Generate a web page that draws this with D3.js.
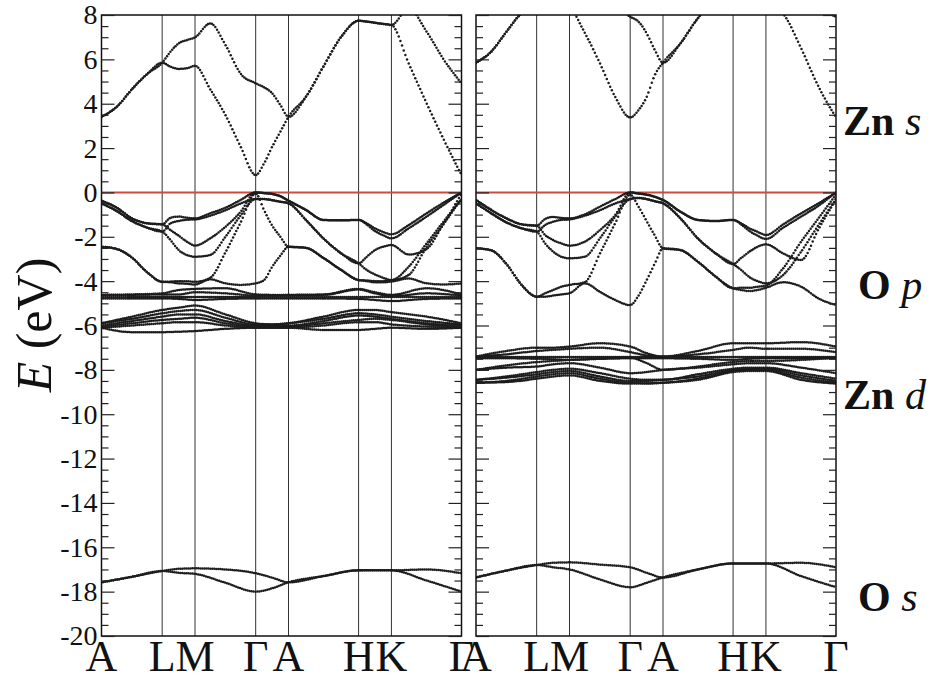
<!DOCTYPE html>
<html>
<head>
<meta charset="utf-8">
<script src="https://cdn.jsdelivr.net/npm/d3@7"></script>
<style>
    body { margin: 0; background: #fff; }
    svg { display: block; }
    text { font-family: "Liberation Serif", "Times New Roman", Times, serif; }
</style>
</head>
<body>
<svg id="chart" width="929" height="676"></svg>
<script>
// k-path A-L-M-Γ-A-H-K-Γ (cumulative distance, 1/Å)
var kLabels = ["A", "L", "M", "Γ", "A", "H", "K", "Γ"];
var kNodes = [0, 1.116, 1.72, 2.836, 3.44, 4.729, 5.333, 6.622];
var kFine = [0, 0.28, 0.56, 0.84, 1.116, 1.27, 1.42, 1.57, 1.72, 2.0, 2.28, 2.56, 2.836, 2.99, 3.14, 3.29,
             3.44, 3.76, 4.08, 4.41, 4.729, 4.88, 5.03, 5.18, 5.333, 5.65, 5.98, 6.30, 6.622];
var kCoarse = [0, 0.56, 1.116, 1.42, 1.72, 2.28, 2.836, 3.14, 3.44, 4.08, 4.729, 5.03, 5.333, 5.98, 6.622];

var yMajor = [8, 6, 4, 2, 0, -2, -4, -6, -8, -10, -12, -14, -16, -18, -20];

// ---- left panel (eV) ----
// conduction bands, on kFine
var condLeft = [
    [3.41, 3.86, 4.65, 5.34, 5.85, 5.67, 5.57, 5.6, 5.71, 4.65, 3.49, 2.06, 0.78, 1.31, 2.06, 2.74, 3.41, 4.31, 5.67, 7.02, 7.74, 7.7, 7.65, 7.6, 7.55, 5.82, 4.02, 2.36, 0.78],
    [3.41, 3.86, 4.65, 5.34, 5.85, 6.35, 6.72, 6.87, 6.99, 7.62, 6.65, 5.35, 4.92, 4.74, 4.47, 3.94, 3.41, 4.31, 5.67, 7.02, 7.74, 7.7, 7.65, 7.6, 7.55, 8.3, 7.25, 5.97, 4.92]
];
// O p bands, on kFine
var opLeft = [
    [-0.37, -0.69, -1.17, -1.39, -1.44, -1.14, -1.09, -1.14, -1.17, -0.94, -0.69, -0.34, 0, -0.03, -0.07, -0.17, -0.37, -0.79, -1.24, -1.26, -1.24, -1.4, -1.62, -1.78, -1.89, -1.47, -0.94, -0.45, 0],
    [-0.37, -0.69, -1.17, -1.39, -1.44, -1.7, -1.95, -2.22, -2.4, -2.07, -1.55, -0.87, 0, -0.03, -0.07, -0.17, -0.37, -0.79, -1.24, -1.26, -1.24, -1.45, -1.74, -1.93, -2.07, -1.62, -1.09, -0.55, 0],
    [-2.45, -2.55, -2.94, -3.6, -4.03, -4.02, -4.0, -4.0, -4.03, -3.85, -2.7, -1.35, -0.05, -0.8, -1.5, -2.0, -2.45, -2.5, -2.95, -3.5, -3.95, -3.97, -4.0, -4.0, -3.97, -3.72, -2.45, -1.39, -0.05],
    [-0.49, -0.84, -1.29, -1.59, -1.77, -1.39, -1.29, -1.23, -1.22, -1.05, -0.8, -0.5, -0.3, -0.3, -0.35, -0.42, -0.49, -1.24, -2.07, -2.75, -3.2, -2.9, -2.6, -2.45, -2.37, -2.8, -2.55, -1.4, -0.3],
    [-0.49, -0.84, -1.29, -1.59, -1.77, -2.15, -2.6, -2.82, -2.9, -2.82, -2.0, -1.04, -0.3, -0.3, -0.35, -0.42, -0.49, -1.24, -2.07, -2.75, -3.2, -3.5, -3.7, -3.85, -3.95, -3.35, -2.3, -1.29, -0.3],
    [-2.45, -2.55, -2.94, -3.6, -4.03, -4.05, -4.1, -4.12, -4.15, -3.92, -4.1, -4.17, -4.1, -3.95, -3.35, -2.85, -2.45, -2.5, -2.95, -3.5, -3.95, -4.0, -4.05, -4.05, -4.02, -3.88, -4.1, -4.15, -4.1]
];
// Zn d bands, on kCoarse
var zndLeft = [
    [-4.62, -4.6, -4.55, -4.4, -4.35, -4.32, -4.6, -4.62, -4.62, -4.6, -4.35, -4.5, -4.62, -4.32, -4.6],
    [-4.62, -4.62, -4.6, -4.6, -4.5, -4.55, -4.65, -4.65, -4.62, -4.62, -4.38, -4.55, -4.68, -4.55, -4.65],
    [-4.72, -4.72, -4.72, -4.72, -4.72, -4.72, -4.72, -4.72, -4.72, -4.72, -4.72, -4.72, -4.72, -4.72, -4.72],
    [-4.78, -4.78, -4.78, -4.8, -4.85, -4.8, -4.78, -4.78, -4.78, -4.78, -4.8, -4.85, -4.9, -4.8, -4.78],
    [-5.9, -5.6, -5.3, -5.2, -5.1, -5.5, -5.9, -5.95, -5.9, -5.6, -5.3, -5.3, -5.4, -5.6, -5.9],
    [-5.9, -5.7, -5.45, -5.35, -5.3, -5.65, -5.95, -5.95, -5.9, -5.7, -5.45, -5.5, -5.6, -5.8, -5.95],
    [-6.0, -5.8, -5.6, -5.5, -5.5, -5.8, -6.0, -6.0, -6.0, -5.8, -5.55, -5.6, -5.7, -5.9, -6.0],
    [-6.05, -5.9, -5.75, -5.7, -5.65, -5.9, -6.05, -6.05, -6.05, -5.9, -5.75, -5.7, -5.75, -5.95, -6.05],
    [-6.1, -6.0, -5.9, -5.85, -5.85, -6.0, -6.1, -6.1, -6.1, -6.0, -5.85, -5.85, -5.95, -6.05, -6.1],
    [-6.1, -6.3, -6.3, -6.28, -6.25, -6.15, -6.1, -6.1, -6.1, -6.2, -6.2, -6.15, -6.1, -6.15, -6.1]
];
// O s bands, on kCoarse
var osLeft = [
    [-17.58, -17.33, -17.07, -16.97, -16.95, -17.0, -17.17, -17.37, -17.58, -17.3, -17.04, -17.04, -17.04, -17.0, -17.17],
    [-17.58, -17.33, -17.07, -17.15, -17.2, -17.6, -18.0, -17.85, -17.58, -17.3, -17.04, -17.04, -17.04, -17.5, -18.0]
];

// ---- right panel (eV) ----
var condRight = [
    [5.85, 6.35, 7.25, 8.1, 8.6, 8.7, 8.65, 8.5, 8.35, 7.2, 5.82, 4.31, 3.38, 3.71, 4.31, 5.3, 5.85, 6.72, 7.85, 8.7, 9.0, 9.1, 9.1, 9.0, 8.5, 8.05, 6.5, 4.77, 3.38],
    [5.85, 6.35, 7.25, 8.1, 8.6, 9.0, 9.3, 9.4, 9.4, 9.3, 9.0, 8.5, 7.92, 7.7, 7.17, 6.42, 5.85, 6.72, 7.85, 8.7, 9.0, 9.1, 9.1, 9.0, 8.5, 9.0, 9.2, 8.35, 7.92]
];
var opRight = [
    [-0.34, -0.79, -1.17, -1.44, -1.5, -1.2, -1.11, -1.15, -1.17, -0.99, -0.64, -0.3, 0, -0.05, -0.1, -0.2, -0.34, -0.87, -1.24, -1.29, -1.24, -1.4, -1.62, -1.78, -1.92, -1.44, -0.94, -0.49, 0],
    [-0.34, -0.79, -1.17, -1.44, -1.5, -1.92, -2.15, -2.3, -2.4, -2.22, -1.7, -1.02, 0, -0.05, -0.1, -0.2, -0.34, -0.87, -1.24, -1.29, -1.24, -1.45, -1.74, -1.95, -2.1, -1.59, -1.09, -0.6, 0],
    [-2.52, -2.61, -3.23, -4.17, -4.7, -4.55, -4.4, -4.25, -4.17, -4.05, -2.75, -1.39, -0.1, -0.65, -1.3, -1.95, -2.52, -2.6, -3.12, -3.8, -4.32, -4.3, -4.3, -4.25, -4.2, -3.42, -2.22, -1.17, -0.1],
    [-0.49, -0.94, -1.35, -1.62, -1.77, -1.47, -1.32, -1.24, -1.22, -1.05, -0.8, -0.5, -0.3, -0.25, -0.3, -0.4, -0.49, -1.17, -2.07, -2.75, -3.23, -2.95, -2.67, -2.45, -2.34, -2.75, -3.05, -1.65, -0.3],
    [-0.49, -0.94, -1.35, -1.62, -1.77, -2.3, -2.67, -2.9, -2.97, -2.9, -2.07, -1.09, -0.3, -0.25, -0.3, -0.4, -0.49, -1.17, -2.07, -2.75, -3.23, -3.5, -3.82, -4.0, -4.1, -3.72, -2.67, -1.47, -0.3],
    [-2.52, -2.61, -3.23, -4.17, -4.7, -4.7, -4.65, -4.6, -4.55, -4.1, -4.48, -4.85, -5.08, -4.65, -3.95, -3.2, -2.52, -2.6, -3.12, -3.8, -4.32, -4.4, -4.45, -4.4, -4.3, -4.05, -4.25, -4.78, -5.08]
];
var zndRight = [
    [-7.4, -7.15, -7.0, -7.0, -6.95, -6.8, -6.95, -7.25, -7.4, -7.15, -6.8, -6.8, -6.8, -6.75, -6.95],
    [-7.4, -7.3, -7.15, -7.1, -7.05, -7.0, -7.2, -7.35, -7.4, -7.3, -7.1, -7.0, -7.05, -7.05, -7.2],
    [-7.42, -7.42, -7.42, -7.42, -7.42, -7.42, -7.42, -7.42, -7.42, -7.42, -7.42, -7.42, -7.42, -7.42, -7.42],
    [-7.48, -7.48, -7.5, -7.52, -7.55, -7.5, -7.48, -7.48, -7.48, -7.5, -7.55, -7.5, -7.48, -7.48, -7.48],
    [-8.0, -7.8, -7.65, -7.6, -7.55, -7.5, -7.45, -7.7, -8.0, -7.85, -7.65, -7.6, -7.6, -7.55, -7.45],
    [-8.0, -7.9, -7.85, -7.75, -7.7, -7.9, -8.15, -8.1, -8.0, -7.9, -7.75, -7.7, -7.7, -7.9, -8.15],
    [-8.45, -8.3, -8.1, -8.0, -7.95, -8.15, -8.4, -8.45, -8.45, -8.2, -7.95, -7.9, -7.9, -8.15, -8.4],
    [-8.45, -8.35, -8.2, -8.1, -8.05, -8.3, -8.5, -8.5, -8.45, -8.3, -8.0, -7.95, -7.95, -8.25, -8.5],
    [-8.58, -8.5, -8.3, -8.2, -8.15, -8.4, -8.58, -8.6, -8.58, -8.4, -8.05, -8.0, -8.0, -8.35, -8.58],
    [-8.58, -8.55, -8.4, -8.3, -8.25, -8.5, -8.62, -8.62, -8.58, -8.45, -8.1, -8.05, -8.05, -8.45, -8.62]
];
var osRight = [
    [-17.36, -17.05, -16.8, -16.7, -16.68, -16.78, -16.9, -17.15, -17.36, -17.0, -16.73, -16.73, -16.73, -16.7, -16.9],
    [-17.36, -17.05, -16.8, -16.9, -17.0, -17.45, -17.8, -17.6, -17.36, -17.0, -16.73, -16.73, -16.73, -17.3, -17.8]
];

// orbital character of each band group (label centre, eV)
var orbitalLabels = [
    {main: "Zn", sub: "s", e: 3.26},
    {main: "O", sub: "p", e: -4.13},
    {main: "Zn", sub: "d", e: -9.1},
    {main: "O", sub: "s", e: -18.2}
];

var svg = d3.select("#chart");
var defs = svg.append("defs");

var y = d3.scaleLinear().domain([-20, 8]).range([636, 15]);

var PANELS = [
    {x0: 101.5, x1: 461.5, cond: condLeft, op: opLeft, znd: zndLeft, os: osLeft, labels: true},
    {x0: 476, x1: 836, cond: condRight, op: opRight, znd: zndRight, os: osRight, labels: false}
];

var BAND_COLOR = "#1c1c1c";

// the bands were plotted as points evenly spaced in k: steep parts look dotted
function dotPath(node, target) {
    var len = node.getTotalLength();
    var pts = [];
    var lastX = -1e9;
    for (var s = 0; s <= len; s += 0.4) {
        var pt = node.getPointAtLength(s);
        if (pt.x - lastX >= 1.6) {
            pts.push([pt.x, pt.y]);
            lastX = pt.x;
        }
    }
    target.selectAll(null)
        .data(pts)
        .enter()
        .append("circle")
        .attr("cx", function(d) { return d[0]; })
        .attr("cy", function(d) { return d[1]; })
        .attr("r", 1.25)
        .attr("fill", BAND_COLOR);
}

function drawPanel(p, idx) {
    var x = d3.scaleLinear()
        .domain([kNodes[0], kNodes[kNodes.length - 1]])
        .range([p.x0, p.x1]);

    defs.append("clipPath").attr("id", "clip" + idx)
        .append("rect")
        .attr("x", p.x0).attr("y", y(8))
        .attr("width", p.x1 - p.x0).attr("height", y(-20) - y(8));

    var g = svg.append("g");

    // high-symmetry lines
    g.selectAll("line.kline")
        .data(kNodes.slice(1, -1))
        .enter()
        .append("line")
        .attr("class", "kline")
        .attr("x1", function(d) { return x(d); })
        .attr("x2", function(d) { return x(d); })
        .attr("y1", y(8))
        .attr("y2", y(-20))
        .attr("stroke", "#333")
        .attr("stroke-width", 1);

    // Fermi level
    g.append("line")
        .attr("x1", p.x0).attr("x2", p.x1)
        .attr("y1", y(0)).attr("y2", y(0))
        .attr("stroke", "#cf4a3e")
        .attr("stroke-width", 2);

    var bandLine = d3.line()
        .x(function(d) { return x(d[0]); })
        .y(function(d) { return y(d[1]); })
        .curve(d3.curveMonotoneX);

    var fine = p.cond.concat(p.op).map(function(v) {
        return kFine.map(function(k, i) { return [k, v[i]]; });
    });
    var coarse = p.znd.concat(p.os).map(function(v) {
        return kCoarse.map(function(k, i) { return [k, v[i]]; });
    });

    var bandG = g.append("g").attr("clip-path", "url(#clip" + idx + ")");
    var paths = bandG.selectAll("path")
        .data(fine.concat(coarse))
        .enter()
        .append("path")
        .attr("d", bandLine)
        .attr("fill", "none")
        .attr("stroke", "none");
    var dots = bandG.append("g");
    paths.each(function() { dotPath(this, dots); });

    // frame
    g.append("rect")
        .attr("x", p.x0).attr("y", y(8))
        .attr("width", p.x1 - p.x0).attr("height", y(-20) - y(8))
        .attr("fill", "none")
        .attr("stroke", "#111")
        .attr("stroke-width", 1.5);

    // ticks on both sides, pointing inwards
    var minor = d3.range(-20, 8.001, 0.5).filter(function(v) { return v % 2 != 0; });
    var sides = [
        {axis: d3.axisLeft, at: p.x0, showText: p.labels},
        {axis: d3.axisRight, at: p.x1, showText: false}
    ];
    sides.forEach(function(s) {
        var maj = g.append("g")
            .attr("transform", "translate(" + s.at + ",0)")
            .call(s.axis(y).tickValues(yMajor).tickSize(-13).tickPadding(4)
                .tickFormat(function(d) { return s.showText ? String(d) : ""; }));
        var mnr = g.append("g")
            .attr("transform", "translate(" + s.at + ",0)")
            .call(s.axis(y).tickValues(minor).tickSize(-7).tickFormat(""));
        [maj, mnr].forEach(function(a) {
            a.select(".domain").remove();
            a.selectAll(".tick line").attr("stroke", "#222").attr("stroke-width", 1.2);
        });
        maj.attr("font-family", "Liberation Serif, Times New Roman, serif").attr("font-size", 28);
        maj.selectAll(".tick text").attr("fill", "#111");
    });

    // k labels
    g.selectAll("text.klabel")
        .data(kNodes)
        .enter()
        .append("text")
        .attr("class", "klabel")
        .attr("x", function(d) { return x(d); })
        .attr("y", 671)
        .attr("text-anchor", "middle")
        .attr("font-size", 44)
        .attr("fill", "#111")
        .text(function(d, i) { return kLabels[i]; });
}

PANELS.forEach(drawPanel);

// y axis title
var yt = svg.append("text")
    .attr("transform", "translate(51,325) rotate(-90)")
    .attr("text-anchor", "middle")
    .attr("font-size", 50)
    .attr("fill", "#111");
yt.append("tspan").attr("font-style", "italic").text("E");
yt.append("tspan").text(" (eV)");

// orbital character labels on the right
var ol = svg.selectAll("text.orb")
    .data(orbitalLabels)
    .enter()
    .append("text")
    .attr("class", "orb")
    .attr("x", function(d) { return d.main == "Zn" ? 843 : 858; })
    .attr("y", function(d) { return y(d.e); })
    .attr("dy", "0.35em")
    .attr("font-size", 42)
    .attr("fill", "#111");
ol.append("tspan").attr("font-weight", "bold").text(function(d) { return d.main; });
ol.append("tspan").attr("font-style", "italic").text(function(d) { return " " + d.sub; });
</script>
</body>
</html>
